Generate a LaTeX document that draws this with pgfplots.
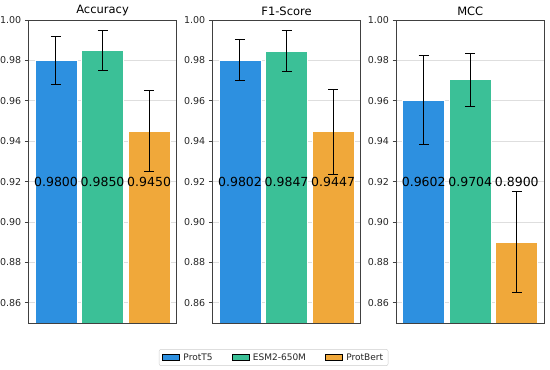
\documentclass[border=0pt]{standalone}
\usepackage{fontspec}
\setmainfont{DejaVu Sans}
\usepackage{pgfplots}
\pgfplotsset{compat=1.18}
\definecolor{cblue}{RGB}{45,144,224}
\definecolor{cgreen}{RGB}{59,192,151}
\definecolor{corange}{RGB}{240,168,58}
\pgfplotsset{
  myax/.style={
    scale only axis, width=148.5pt, height=303pt,
    xmin=-0.595, xmax=2.595, ymin=0.85, ymax=1.00,
    xtick=\empty, ytick={0.86,0.88,0.90,0.92,0.94,0.96,0.98,1.00},
    ymajorgrids, grid style={color=black!13, line width=0.8pt},
    axis line style={color=black!75, line width=0.8pt},
    yticklabel style={font=\fontsize{9.5}{10}\selectfont, color=black!85,
      /pgf/number format/.cd, fixed, fixed zerofill, precision=2, assume math mode=true},
    tick style={color=black!75, line width=0.8pt}, major tick length=3.5pt,
    tick align=outside, ytick pos=left,
    title style={font=\fontsize{11.5}{12}\selectfont, yshift=-5pt},
  },
  mybar/.style={ybar, bar width=0.9, bar shift=0pt, draw=white, line width=0.8pt, fill=#1, forget plot},
  mylab/.style={draw=none, mark=none, forget plot, nodes near coords, point meta=explicit symbolic,
    nodes near coords style={anchor=center, font=\fontsize{12.5}{13}\selectfont, black}},
}
\begin{document}
\begin{tikzpicture}
\useasboundingbox (0,0) rectangle (550pt,370pt);
% Accuracy
\begin{axis}[myax, at={(28.3pt,47pt)}, anchor=south west, title=Accuracy]
\addplot[mybar=cblue, error bars/.cd, y dir=both, y explicit, error bar style={black, line width=1pt}, error mark options={rotate=90, black, mark size=5pt, line width=1pt}] coordinates {(0,0.9800) +- (0,0.012)};
\addplot[mybar=cgreen, error bars/.cd, y dir=both, y explicit, error bar style={black, line width=1pt}, error mark options={rotate=90, black, mark size=5pt, line width=1pt}] coordinates {(1,0.9850) +- (0,0.010)};
\addplot[mybar=corange, error bars/.cd, y dir=both, y explicit, error bar style={black, line width=1pt}, error mark options={rotate=90, black, mark size=5pt, line width=1pt}] coordinates {(2,0.9450) +- (0,0.020)};
\addplot[mylab] coordinates {(0,0.92)[0.9800] (1,0.92)[0.9850] (2,0.92)[0.9450]};
\end{axis}
% F1-Score
\begin{axis}[myax, at={(212.3pt,47pt)}, anchor=south west, title=F1-Score,
  legend columns=3,
  legend style={at={(0.413,-0.1139)}, anchor=center, draw=black!20, rounded corners=2pt,
    font=\fontsize{9}{10}\selectfont, text=black!85,
    /tikz/every odd column/.append style={column sep=2pt},
    /tikz/every even column/.append style={column sep=17pt}},
  legend image code/.code={\fill[#1, sharp corners] (0pt,-3pt) rectangle (17pt,3pt);}]
\addlegendimage{fill=cblue}\addlegendentry{ProtT5}
\addlegendimage{fill=cgreen}\addlegendentry{ESM2-650M}
\addlegendimage{fill=corange}\addlegendentry{ProtBert}
\addplot[mybar=cblue, error bars/.cd, y dir=both, y explicit, error bar style={black, line width=1pt}, error mark options={rotate=90, black, mark size=5pt, line width=1pt}] coordinates {(0,0.9802) +- (0,0.010)};
\addplot[mybar=cgreen, error bars/.cd, y dir=both, y explicit, error bar style={black, line width=1pt}, error mark options={rotate=90, black, mark size=5pt, line width=1pt}] coordinates {(1,0.9847) +- (0,0.010)};
\addplot[mybar=corange, error bars/.cd, y dir=both, y explicit, error bar style={black, line width=1pt}, error mark options={rotate=90, black, mark size=5pt, line width=1pt}] coordinates {(2,0.9447) +- (0,0.021)};
\addplot[mylab] coordinates {(0,0.92)[0.9802] (1,0.92)[0.9847] (2,0.92)[0.9447]};
\end{axis}
% MCC
\begin{axis}[myax, at={(396pt,47pt)}, anchor=south west, title=MCC]
\addplot[mybar=cblue, error bars/.cd, y dir=both, y explicit, error bar style={black, line width=1pt}, error mark options={rotate=90, black, mark size=5pt, line width=1pt}] coordinates {(0,0.9602) +- (0,0.022)};
\addplot[mybar=cgreen, error bars/.cd, y dir=both, y explicit, error bar style={black, line width=1pt}, error mark options={rotate=90, black, mark size=5pt, line width=1pt}] coordinates {(1,0.9704) +- (0,0.013)};
\addplot[mybar=corange, error bars/.cd, y dir=both, y explicit, error bar style={black, line width=1pt}, error mark options={rotate=90, black, mark size=5pt, line width=1pt}] coordinates {(2,0.8900) +- (0,0.025)};
\addplot[mylab] coordinates {(0,0.92)[0.9602] (1,0.92)[0.9704] (2,0.92)[0.8900]};
\end{axis}
\end{tikzpicture}
\end{document}
